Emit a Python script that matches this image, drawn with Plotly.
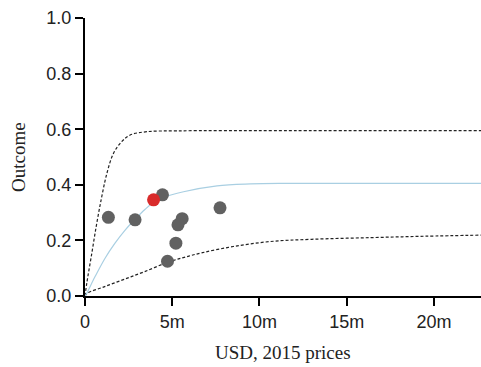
import plotly.graph_objects as go

# Observed data points (USD millions, outcome)
pts_x = [1.34, 2.87, 4.44, 5.57, 5.33, 5.21, 4.73, 7.74]
pts_y = [0.283, 0.274, 0.364, 0.278, 0.256, 0.19, 0.125, 0.317]
hl_x = [3.93]
hl_y = [0.346]

# Fitted curve (central)
fit_x = [0, 0.1, 0.57, 1.15, 1.72, 2.3, 2.87, 3.45, 3.93, 4.5, 5.65, 7.57, 9.48, 11.2, 15, 22.7]
fit_y = [0, 0.01, 0.069, 0.136, 0.19, 0.237, 0.276, 0.312, 0.337, 0.355, 0.375, 0.396, 0.403, 0.405, 0.405, 0.405]

# Upper bound curve
up_x = [0, 0.1, 0.38, 0.67, 0.96, 1.25, 1.63, 2.1, 2.59, 3.54, 5.27, 8, 12, 22.7]
up_y = [0, 0.045, 0.15, 0.26, 0.357, 0.44, 0.513, 0.555, 0.579, 0.591, 0.594, 0.595, 0.595, 0.595]

# Lower bound curve
lo_x = [0, 0.13, 1.09, 2.24, 3.39, 4.73, 5.69, 6.74, 8.5, 10.63, 13, 16.4, 19.5, 22.7]
lo_y = [0, 0.01, 0.033, 0.06, 0.087, 0.121, 0.139, 0.156, 0.178, 0.196, 0.204, 0.21, 0.215, 0.219]

x_tickvals = [0, 5, 10, 15, 20]
x_ticktext = ["0", "5m", "10m", "15m", "20m"]
y_tickvals = [0, 0.2, 0.4, 0.6, 0.8, 1.0]
y_ticktext = ["0.0", "0.2", "0.4", "0.6", "0.8", "1.0"]

x_title = "USD, 2015 prices"
y_title = "Outcome"

fig = go.Figure()
fig.add_trace(go.Scatter(x=up_x, y=up_y, mode="lines", line=dict(color="#222222", width=1.2, dash="3px,2px", shape="spline"), hoverinfo="skip"))
fig.add_trace(go.Scatter(x=lo_x, y=lo_y, mode="lines", line=dict(color="#222222", width=1.2, dash="3px,2px", shape="spline"), hoverinfo="skip"))
fig.add_trace(go.Scatter(x=fit_x, y=fit_y, mode="lines", line=dict(color="#a9cfe2", width=1.2, shape="spline"), hoverinfo="skip"))
fig.add_trace(go.Scatter(x=pts_x, y=pts_y, mode="markers", marker=dict(color="#616161", size=13)))
fig.add_trace(go.Scatter(x=hl_x, y=hl_y, mode="markers", marker=dict(color="#d92b2b", size=13)))

serif = dict(family="Liberation Serif, Times New Roman", size=19, color="#222222")
fig.update_layout(
    width=481, height=367,
    margin=dict(l=85, r=0, t=18, b=71, autoexpand=False),
    paper_bgcolor="white", plot_bgcolor="white",
    showlegend=False,
    annotations=[
        dict(text=x_title, xref="paper", yref="paper", x=(283 - 85) / 396, y=-(352 - 296) / 278,
             xanchor="center", yanchor="middle", showarrow=False, font=serif),
        dict(text=y_title, xref="paper", yref="paper", x=-(85 - 18) / 396, y=0.5, textangle=-90,
             xanchor="center", yanchor="middle", showarrow=False, font=serif),
    ],
)
fig.update_xaxes(
    range=[0, 22.7], tickvals=x_tickvals, ticktext=x_ticktext, automargin=False,
    showgrid=False, zeroline=False, showline=True, linecolor="black", linewidth=2,
    ticks="outside", ticklen=8, tickwidth=1.5, tickcolor="black",
    tickfont=dict(family="Liberation Sans, Arial", size=18, color="#222222"),
)
fig.update_yaxes(
    range=[0, 1.0], tickvals=y_tickvals, ticktext=y_ticktext, automargin=False,
    showgrid=False, zeroline=False, showline=True, linecolor="black", linewidth=2,
    ticks="outside", ticklen=8, tickwidth=1.5, tickcolor="black",
    tickfont=dict(family="Liberation Sans, Arial", size=18, color="#222222"),
)
fig.write_html("out.html", config={"displayModeBar": False},
               post_script="document.body.style.margin='0';document.body.style.overflow='hidden';")
